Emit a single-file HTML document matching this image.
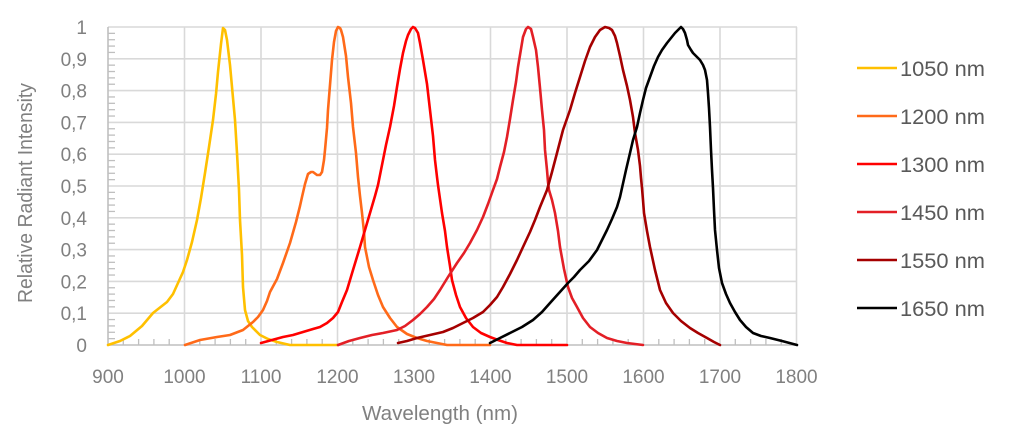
<!DOCTYPE html>
<html>
<head>
<meta charset="utf-8">
<style>
  html,body{margin:0;padding:0;background:#fff;}
  svg{display:block;}
  text{font-family:"Liberation Sans",sans-serif;}
</style>
</head>
<body>
<svg width="1024" height="435" viewBox="0 0 1024 435" xmlns="http://www.w3.org/2000/svg">
  <rect width="1024" height="435" fill="#fff"/>
  <!-- horizontal gridlines -->
  <g stroke="#D9D9D9" stroke-width="1.6" fill="none">
    <line x1="108" y1="27" x2="797" y2="27"/>
    <line x1="108" y1="58.8" x2="797" y2="58.8"/>
    <line x1="108" y1="90.6" x2="797" y2="90.6"/>
    <line x1="108" y1="122.4" x2="797" y2="122.4"/>
    <line x1="108" y1="154.2" x2="797" y2="154.2"/>
    <line x1="108" y1="186" x2="797" y2="186"/>
    <line x1="108" y1="217.8" x2="797" y2="217.8"/>
    <line x1="108" y1="249.6" x2="797" y2="249.6"/>
    <line x1="108" y1="281.4" x2="797" y2="281.4"/>
    <line x1="108" y1="313.2" x2="797" y2="313.2"/>
    <!-- vertical gridlines -->
    <line x1="184.5" y1="27" x2="184.5" y2="345"/>
    <line x1="261" y1="27" x2="261" y2="345"/>
    <line x1="337.5" y1="27" x2="337.5" y2="345"/>
    <line x1="414" y1="27" x2="414" y2="345"/>
    <line x1="490.5" y1="27" x2="490.5" y2="345"/>
    <line x1="567" y1="27" x2="567" y2="345"/>
    <line x1="643.5" y1="27" x2="643.5" y2="345"/>
    <line x1="720" y1="27" x2="720" y2="345"/>
    <line x1="796.5" y1="27" x2="796.5" y2="345"/>
  </g>
  <!-- axes -->
  <g stroke="#BFBFBF" stroke-width="1.6" fill="none">
    <line x1="108" y1="27" x2="108" y2="345"/>
    <line x1="108" y1="345" x2="797" y2="345"/>
  </g>
  <!-- minor ticks -->
  <g stroke="#BFBFBF" stroke-width="1.3" id="ticks"></g>
  <!-- y tick labels -->
  <g fill="#808080" font-size="19" text-anchor="end">
    <text x="87" y="34">1</text>
    <text x="87" y="65.8">0,9</text>
    <text x="87" y="97.6">0,8</text>
    <text x="87" y="129.4">0,7</text>
    <text x="87" y="161.2">0,6</text>
    <text x="87" y="193">0,5</text>
    <text x="87" y="224.8">0,4</text>
    <text x="87" y="256.6">0,3</text>
    <text x="87" y="288.4">0,2</text>
    <text x="87" y="320.2">0,1</text>
    <text x="87" y="352">0</text>
  </g>
  <!-- x tick labels -->
  <g fill="#808080" font-size="19" text-anchor="middle">
    <text x="108" y="383">900</text>
    <text x="184.5" y="383">1000</text>
    <text x="261" y="383">1100</text>
    <text x="337.5" y="383">1200</text>
    <text x="414" y="383">1300</text>
    <text x="490.5" y="383">1400</text>
    <text x="567" y="383">1500</text>
    <text x="643.5" y="383">1600</text>
    <text x="720" y="383">1700</text>
    <text x="796.5" y="383">1800</text>
  </g>
  <!-- axis titles -->
  <text x="440" y="420" fill="#808080" font-size="20" text-anchor="middle" textLength="156" lengthAdjust="spacingAndGlyphs">Wavelength (nm)</text>
  <text transform="translate(32,193) rotate(-90)" x="0" y="0" fill="#808080" font-size="20" text-anchor="middle" textLength="220" lengthAdjust="spacingAndGlyphs">Relative Radiant Intensity</text>

  <!-- series -->
  <g fill="none" stroke-width="2.6" stroke-linejoin="round" stroke-linecap="round">
    <polyline stroke="#FFC000" points="108,345 120,341 130,336 142,326 153,313 167,302 173,294 178,283 183,272 187,260 192,242 197,220 201,198 205,173 209,147 213,120 216,94 218,72 221,44 223,28 225,30 227,40 230,65 232,87 235,120 237,153 239,190 240,220 242,255 243,287 245,310 248,321 252,327 260,335 268,339 277,342 290,345 338,345"/>
    <polyline stroke="#FF6A19" points="185,345 200,340 217,337 230,335 243,330 253,322 258,317 263,310 267,301 270,292 277,279 283,263 290,243 296,222 300,206 302,197 305,184 308,174 311,172 313,172 317,175 320,175 322,172 324,160 325,150 327,128 328,110 330,85 332,60 334,42 336,31 338,27 340,28 341,30 343,37 346,56 348,77 351,103 353,127 356,153 358,177 360,196 362,213 364,232 365,247 369,267 373,280 378,295 383,307 390,318 397,327 407,334 417,338 427,341 437,343 447,345 490,345"/>
    <polyline stroke="#FF0000" points="261,343 272,340 283,337 293,335 303,332 313,329 320,327 327,323 333,318 338,312 342,302 347,290 353,270 360,247 365,230 370,213 375,196 378,185 383,160 386,145 390,127 394,106 397,87 400,69 403,53 406,41 408,35 411,29 413,27 415,28 418,33 420,43 423,60 427,84 430,110 433,136 435,160 437,177 438,185 440,199 442,213 445,231 447,247 450,266 452,280 456,295 460,307 466,318 473,327 481,333 490,337 498,340 507,343 517,345 567,345"/>
    <polyline stroke="#E31F26" points="338,345 349,341 360,338 372,335 383,333 397,330 405,326 413,320 420,314 427,307 434,299 440,290 448,277 457,263 464,253 470,243 477,230 483,217 488,204 493,190 497,179 500,167 504,152 507,137 510,119 513,100 516,82 518,67 521,49 523,37 526,29 528,27 531,29 533,37 536,50 538,67 540,88 542,110 544,130 545,150 547,170 548,182 549,190 552,200 555,213 558,231 560,247 564,269 568,287 572,298 577,307 583,318 590,327 598,333 607,338 617,341 627,343 635,344 643,345"/>
    <polyline stroke="#A50000" points="398,343 407,341 417,338 430,335 443,332 453,328 463,323 473,318 483,312 490,305 497,297 503,287 510,274 517,260 523,247 530,232 535,220 540,207 547,190 552,172 557,153 563,130 570,110 575,93 580,77 585,61 590,47 595,37 600,30 605,27 609,28 612,30 615,36 617,43 620,56 623,70 627,86 630,100 633,117 635,133 638,150 640,166 641,178 642,188 643,200 644,213 647,231 650,247 655,270 660,290 666,303 673,313 681,321 690,328 698,333 707,338 714,342 720,345"/>
    <polyline stroke="#000000" points="490,343 500,338 510,333 522,327 533,320 542,312 550,303 559,293 568,283 574,277 580,270 589,261 597,250 602,240 607,230 612,219 617,207 620,197 622,188 626,170 630,153 633,140 637,127 640,113 643,100 646,88 650,77 654,66 658,57 662,50 667,43 671,38 675,33 678,30 681,27 683,29 685,33 687,40 688,45 691,50 693,53 697,57 700,60 703,65 705,70 707,80 708,93 709,108 710,127 711,150 712,170 713,188 714,210 715,230 716,240 717,250 719,268 722,283 726,294 730,303 735,312 740,320 746,327 753,333 761,336 770,338 782,341 797,345"/>
  </g>

  <!-- legend -->
  <g stroke-width="2.6" fill="none">
    <line x1="857" y1="68" x2="897" y2="68" stroke="#FFC000"/>
    <line x1="857" y1="116" x2="897" y2="116" stroke="#FF6A19"/>
    <line x1="857" y1="164" x2="897" y2="164" stroke="#FF0000"/>
    <line x1="857" y1="212" x2="897" y2="212" stroke="#E31F26"/>
    <line x1="857" y1="260" x2="897" y2="260" stroke="#A50000"/>
    <line x1="857" y1="308" x2="897" y2="308" stroke="#000000"/>
  </g>
  <g fill="#595959" font-size="21">
    <text x="900" y="76" textLength="85" lengthAdjust="spacingAndGlyphs">1050 nm</text>
    <text x="900" y="124" textLength="85" lengthAdjust="spacingAndGlyphs">1200 nm</text>
    <text x="900" y="172" textLength="85" lengthAdjust="spacingAndGlyphs">1300 nm</text>
    <text x="900" y="220" textLength="85" lengthAdjust="spacingAndGlyphs">1450 nm</text>
    <text x="900" y="268" textLength="85" lengthAdjust="spacingAndGlyphs">1550 nm</text>
    <text x="900" y="316" textLength="85" lengthAdjust="spacingAndGlyphs">1650 nm</text>
  </g>
</svg>
<script>
(function(){
  var g=document.getElementById('ticks'),ns='http://www.w3.org/2000/svg';
  for(var i=1;i<50;i++){var y=345-i*6.36;if(i%5===0)continue;var l=document.createElementNS(ns,'line');l.setAttribute('x1',108);l.setAttribute('x2',115);l.setAttribute('y1',y);l.setAttribute('y2',y);g.appendChild(l);}
  for(var j=1;j<45;j++){if(j%5===0)continue;var x=108+j*15.3;var m=document.createElementNS(ns,'line');m.setAttribute('x1',x);m.setAttribute('x2',x);m.setAttribute('y1',339);m.setAttribute('y2',345);g.appendChild(m);}
})();
</script>
</body>
</html>
